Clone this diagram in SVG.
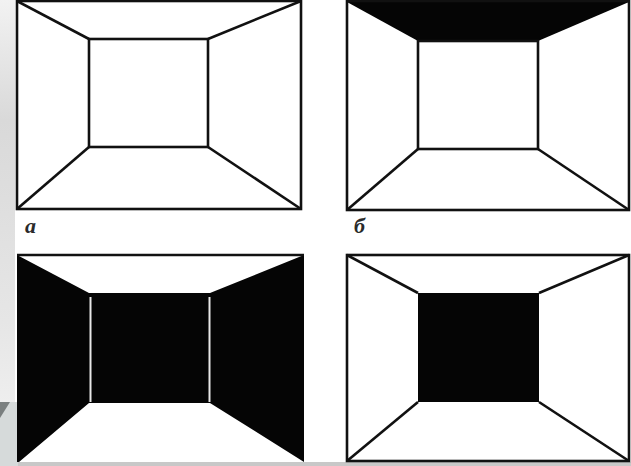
<svg xmlns="http://www.w3.org/2000/svg" width="631" height="466" viewBox="0 0 631 466">
  <style>
    .ln { stroke: #111; stroke-width: 2.6; fill: none; stroke-linejoin: miter; }
    .blk { fill: #050505; }
    .lbl { font-family: "Liberation Serif", "DejaVu Serif", serif; font-style: italic; font-weight: bold; font-size: 22px; fill: #2a2a2a; }
  </style>
  <defs>
    <linearGradient id="side" x1="0" y1="0" x2="0" y2="1">
      <stop offset="0" stop-color="#f2f2f2"/>
      <stop offset="0.3" stop-color="#d9d9d9"/>
      <stop offset="0.8" stop-color="#e6e6e6"/>
      <stop offset="1" stop-color="#eeeeee"/>
    </linearGradient>
  </defs>
  <rect x="0" y="0" width="631" height="466" fill="#ffffff"/>
  <rect x="0" y="0" width="15" height="402" fill="url(#side)"/>
  <polygon points="0,402 18,402 18,466 0,466" fill="#d6dada"/>
  <polygon points="0,402 10,402 0,418" fill="#7a7f7f"/>
  <rect x="18" y="462" width="613" height="4" fill="#c8c8c8"/>

  <g id="room-a">
    <rect class="ln" x="17" y="1" width="284" height="208"/>
    <rect class="ln" x="89" y="39" width="119" height="108"/>
    <line class="ln" x1="17" y1="1" x2="89" y2="39"/>
    <line class="ln" x1="301" y1="1" x2="208" y2="39"/>
    <line class="ln" x1="17" y1="209" x2="89" y2="147"/>
    <line class="ln" x1="301" y1="209" x2="208" y2="147"/>
    <text class="lbl" x="25" y="233">a</text>
  </g>

  <g id="room-b">
    <polygon class="blk" points="347,0 629,0 629,2 538,41 418,41 347,2"/>
    <rect class="ln" x="347" y="1" width="282" height="209"/>
    <rect class="ln" x="418" y="41" width="120" height="108"/>
    <line class="ln" x1="347" y1="210" x2="418" y2="149"/>
    <line class="ln" x1="629" y1="210" x2="538" y2="149"/>
    <text class="lbl" x="354" y="233">б</text>
  </g>

  <g id="room-c">
    <polygon class="blk" points="17,255 89,293 210,293 304,255 304,462 210,403 89,403 19,462 17,462"/>
    <line class="ln" x1="17" y1="255" x2="304" y2="255"/>
    <line x1="90.5" y1="297" x2="90.5" y2="402" stroke="#e8e8e8" stroke-width="2"/>
    <line x1="209.5" y1="297" x2="209.5" y2="402" stroke="#e8e8e8" stroke-width="2"/>
  </g>

  <g id="room-d">
    <rect class="ln" x="347" y="255" width="282" height="206"/>
    <rect class="blk" x="418" y="293" width="121" height="109"/>
    <line class="ln" x1="347" y1="255" x2="418" y2="293"/>
    <line class="ln" x1="629" y1="255" x2="539" y2="293"/>
    <line class="ln" x1="347" y1="461" x2="418" y2="402"/>
    <line class="ln" x1="629" y1="461" x2="539" y2="402"/>
  </g>
</svg>
